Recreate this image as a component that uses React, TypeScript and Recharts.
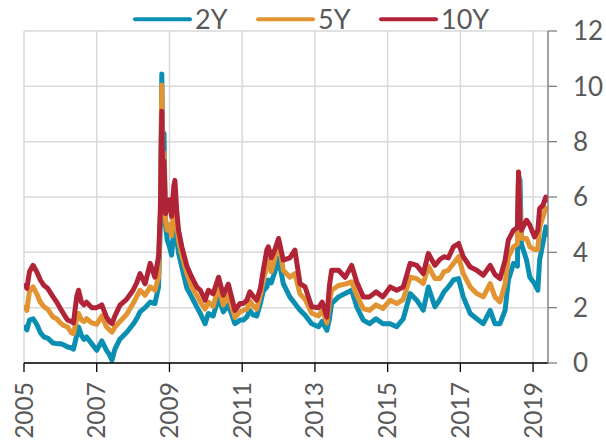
import React from "react";
import { LineChart, Line, XAxis, YAxis, CartesianGrid } from "recharts";

// decimal years
const dates = [
  2005.0, 2005.08, 2005.15, 2005.25, 2005.35, 2005.45, 2005.55, 2005.65, 2005.8, 2005.9,
  2006.0, 2006.1, 2006.2, 2006.3, 2006.36, 2006.45, 2006.5, 2006.58, 2006.65, 2006.72,
  2006.86, 2007.0, 2007.14, 2007.27, 2007.35, 2007.42, 2007.5, 2007.64, 2007.82, 2008.0,
  2008.1, 2008.19, 2008.33, 2008.47, 2008.6, 2008.7, 2008.75, 2008.79, 2008.82, 2008.85,
  2008.89, 2008.94, 2009.0, 2009.06, 2009.12, 2009.15, 2009.2, 2009.25, 2009.34, 2009.48,
  2009.61, 2009.75, 2009.85, 2009.98, 2010.07, 2010.2, 2010.35, 2010.48, 2010.62, 2010.8,
  2010.94, 2011.03, 2011.13, 2011.21, 2011.31, 2011.4, 2011.5, 2011.58, 2011.68, 2011.72,
  2011.8, 2011.9, 2012.0, 2012.13, 2012.31, 2012.45, 2012.59, 2012.73, 2012.91, 2013.1,
  2013.2, 2013.33, 2013.4, 2013.46, 2013.65, 2013.83, 2014.01, 2014.15, 2014.33, 2014.5,
  2014.68, 2014.87, 2015.07, 2015.25, 2015.43, 2015.62, 2015.8, 2015.98, 2016.12, 2016.3,
  2016.44, 2016.55, 2016.67, 2016.81, 2016.95, 2017.08, 2017.27, 2017.45, 2017.63, 2017.82,
  2017.95, 2018.09, 2018.23, 2018.32, 2018.46, 2018.57, 2018.6, 2018.64, 2018.68, 2018.82,
  2018.91, 2019.04, 2019.13, 2019.18, 2019.27, 2019.35, 2019.39,
];

const y2 = [
  1.36, 1.2, 1.55, 1.6, 1.4, 1.1, 0.94, 0.9, 0.72, 0.7,
  0.7, 0.65, 0.58, 0.55, 0.5, 1.0, 1.3, 1.0, 0.85, 0.94,
  0.7, 0.46, 0.8, 0.46, 0.3, 0.1, 0.5, 0.87, 1.1, 1.4,
  1.6, 1.85, 2.0, 2.2, 2.15, 2.75, 5.0, 10.45, 6.5, 8.3,
  5.0, 4.44, 4.2, 3.9, 4.8, 5.3, 4.5, 3.97, 3.47, 2.7,
  2.39, 2.03, 1.79, 1.42, 1.79, 1.7, 2.36, 1.85, 2.09, 1.42,
  1.55, 1.55, 1.67, 1.9, 1.73, 1.7, 2.15, 2.6, 2.75, 3.0,
  2.9, 3.3, 3.78, 2.87, 2.39, 2.15, 1.91, 1.73, 1.42, 1.31,
  1.5, 1.18, 1.6, 2.15, 2.39, 2.51, 2.63, 2.03, 1.55, 1.42,
  1.6, 1.42, 1.42, 1.31, 1.6, 2.51, 2.27, 1.91, 2.75, 2.03,
  2.3, 2.57, 2.75, 3.0, 3.05, 2.39, 1.79, 1.6, 1.42, 1.9,
  1.42, 1.42, 1.9, 3.0, 3.6, 3.5, 6.75, 6.6, 4.3, 3.72,
  3.1, 2.87, 2.63, 3.72, 4.32, 4.92, 4.56,
];

const y5 = [
  2.09, 1.9, 2.6, 2.75, 2.5, 2.2, 2.03, 1.95, 1.66, 1.6,
  1.45, 1.35, 1.3, 1.1, 1.06, 1.6, 1.79, 1.55, 1.5, 1.6,
  1.45, 1.4, 1.7, 1.3, 1.2, 1.12, 1.3, 1.5, 1.75, 2.15,
  2.4, 2.63, 2.45, 2.75, 2.63, 3.1, 5.5, 10.05, 6.8, 7.6,
  5.2, 4.8, 5.0, 4.6, 5.6, 5.9, 5.0, 4.44, 3.9, 3.23,
  2.75, 2.45, 2.2, 1.95, 2.2, 2.05, 2.75, 2.1, 2.45, 1.65,
  1.85, 1.9, 1.95, 2.25, 2.05, 1.95, 2.45, 3.0, 3.5, 3.7,
  3.3, 3.8, 4.45, 3.35, 3.1, 3.23, 2.5, 2.3, 1.8, 1.7,
  1.9, 1.45, 2.2, 2.63, 2.8, 2.85, 2.93, 2.45, 1.97, 1.9,
  2.1, 1.97, 2.27, 2.15, 2.3, 3.1, 3.05, 2.87, 3.5, 3.05,
  3.05, 3.3, 3.35, 3.6, 3.84, 3.23, 2.75, 2.51, 2.39, 2.87,
  2.39, 2.21, 2.87, 3.84, 4.2, 4.3, 6.9, 5.6, 4.5, 4.5,
  4.2, 4.1, 4.1, 4.9, 5.28, 5.6, 5.5,
];

const y10 = [
  2.87, 2.7, 3.3, 3.53, 3.3, 3.0, 2.8, 2.7, 2.39, 2.2,
  1.97, 1.75, 1.55, 1.5, 1.45, 2.4, 2.63, 2.2, 2.1, 2.2,
  2.0, 2.0, 2.1, 1.66, 1.5, 1.42, 1.7, 2.09, 2.3, 2.63,
  2.9, 3.23, 2.86, 3.6, 3.1, 3.84, 5.5, 9.1, 6.4, 7.3,
  5.4, 5.6, 5.9, 5.3, 6.4, 6.6, 5.5, 4.8, 4.2, 3.5,
  3.11, 2.75, 2.63, 2.27, 2.63, 2.5, 3.1, 2.45, 2.85, 1.9,
  2.15, 2.15, 2.27, 2.57, 2.4, 2.27, 2.7, 3.35, 4.1, 4.2,
  3.8, 4.1, 4.5, 3.72, 3.8, 4.08, 2.87, 2.75, 2.03, 2.0,
  2.2, 1.66, 2.8, 3.35, 3.35, 3.1, 3.53, 2.93, 2.39, 2.39,
  2.57, 2.39, 2.75, 2.63, 2.75, 3.6, 3.53, 3.23, 3.96, 3.53,
  3.75, 3.84, 3.8, 4.2, 4.32, 3.84, 3.47, 3.35, 3.17, 3.53,
  3.2, 3.05, 3.72, 4.44, 4.8, 4.9, 6.9, 5.2, 4.8, 5.16,
  4.98, 4.56, 4.8, 5.58, 5.7, 6.0, 5.8,
];

const seriesNames = ["2Y", "5Y", "10Y"];
const seriesColors = ["#0A8FB2", "#E19431", "#B12437"];
const xTicks = [2005, 2007, 2009, 2011, 2013, 2015, 2017, 2019];
const yTicks = [0, 2, 4, 6, 8, 10, 12];

const data = dates.map((t, i) => ({ t, "2Y": y2[i], "5Y": y5[i], "10Y": y10[i] }));

const FONT = "Lato, 'Open Sans', sans-serif";
const TEXT = "#595959";

const XTick = (props: any) => {
  const { x, y, payload } = props;
  return (
    <g transform={`translate(${x},${y})`}>
      <text
        x={0}
        y={0}
        dy="0.35em"
        textAnchor="end"
        transform="rotate(-90)"
        fill={TEXT}
        fontSize={24.5}
        fontFamily={FONT}
      >
        {payload.value}
      </text>
    </g>
  );
};

export default function App() {
  return (
    <div style={{ position: "absolute", left: 0, top: 0, width: 606, height: 441, background: "#fff" }}>
      <LineChart width={606} height={441} data={data} margin={{ top: 31, right: 0, bottom: 0, left: 24 }}>
        <CartesianGrid stroke="#d9d9d9" strokeWidth={1.5} />
        <XAxis
          dataKey="t"
          type="number"
          domain={[2005, 2019.41]}
          ticks={xTicks}
          allowDataOverflow
          height={78}
          stroke="#000"
          strokeWidth={1.3}
          tickSize={9}
          tickMargin={10}
          tick={<XTick />}
        />
        <YAxis
          orientation="right"
          domain={[0, 12]}
          ticks={yTicks}
          width={58}
          stroke="#7f7f7f"
          strokeWidth={1.3}
          tickSize={9}
          tickMargin={16}
          tick={{ fill: TEXT, fontSize: 26, fontFamily: FONT }}
        />
        {seriesNames.map((name, i) => (
          <Line
            key={name}
            dataKey={name}
            stroke={seriesColors[i]}
            strokeWidth={5}
            strokeLinejoin="round"
            dot={false}
            isAnimationActive={false}
          />
        ))}
      </LineChart>
      <svg width={606} height={40} style={{ position: "absolute", left: 0, top: 0 }}>
        {seriesNames.map((name, i) => {
          const x0 = 135 + 123 * i;
          return (
            <g key={name}>
              <line x1={x0} x2={x0 + 55} y1={19.3} y2={19.3} stroke={seriesColors[i]} strokeWidth={4} strokeLinecap="round" />
              <text x={x0 + 60} y={29} fill={TEXT} fontSize={27} fontFamily={FONT}>
                {name}
              </text>
            </g>
          );
        })}
      </svg>
    </div>
  );
}
